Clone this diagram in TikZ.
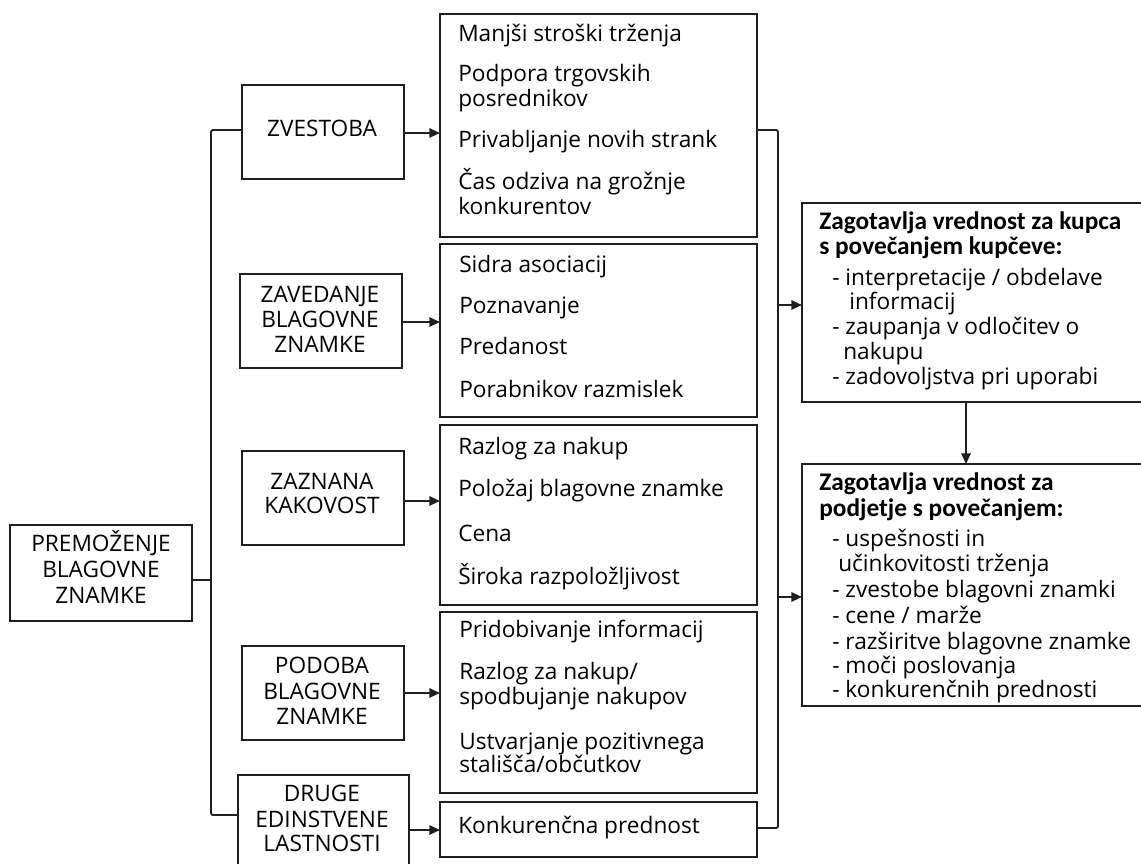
\documentclass[tikz,border=0pt]{standalone}
\usepackage{fontspec}
\setmainfont{Open Sans}
\newfontfamily\headfont{Carlito}
\usetikzlibrary{arrows.meta}

\tikzset{
  frame/.style={draw=black!88, line width=1.4pt, fill=none, inner sep=0pt},
  conn/.style={draw=black!88, line width=1.4pt, rounded corners=1.5pt},
  arr/.style={conn, -{Triangle[length=8pt,width=7pt]}},
  dimtxt/.style={font=\fontsize{17}{20}\selectfont, inner sep=0pt, text height=.72em, text depth=0pt, anchor=center},
  itemtxt/.style={font=\fontsize{17}{20}\selectfont, inner sep=0pt, text height=.72em, text depth=0pt, anchor=west},
  headtxt/.style={font=\headfont\bfseries\fontsize{19}{22}\selectfont, inner sep=0pt, text height=.64em, text depth=0pt, anchor=west},
  subtxt/.style={font=\fontsize{17}{20}\selectfont, inner sep=0pt, text height=.72em, text depth=0pt, anchor=west}
}

\begin{document}
\begin{tikzpicture}[x=0.75pt, y=-0.75pt]
\useasboundingbox (0,0) rectangle (1141,863);
\clip (0,0) rectangle (1141,863);

% ---------- root ----------
\draw[frame] (10,525) rectangle (192,621);
\node[dimtxt] (rootA) at (101,547) {PREMOŽENJE};
\node[dimtxt] (rootB) at (101,573) {BLAGOVNE};
\node[dimtxt] (rootC) at (101,599) {ZNAMKE};
\coordinate (rootE) at (192,580);

% ---------- dimensions ----------
\draw[frame] (242,85) rectangle (404,179);
\node[dimtxt] (zv) at (322,132) {ZVESTOBA};

\draw[frame] (240,274) rectangle (402,368);
\node[dimtxt] (zaA) at (320,298) {ZAVEDANJE};
\node[dimtxt] (zaB) at (320,323) {BLAGOVNE};
\node[dimtxt] (zaC) at (320,348) {ZNAMKE};

\draw[frame] (242,451) rectangle (404,545);
\node[dimtxt] (kaA) at (322,485) {ZAZNANA};
\node[dimtxt] (kaB) at (322,509) {KAKOVOST};

\draw[frame] (242,646) rectangle (404,740);
\node[dimtxt] (poA) at (322,669) {PODOBA};
\node[dimtxt] (poB) at (322,695) {BLAGOVNE};
\node[dimtxt] (poC) at (322,720) {ZNAMKE};

\draw[frame] (238,775) rectangle (409,880);
\node[dimtxt] (drA) at (322,797) {DRUGE};
\node[dimtxt] (drB) at (322,823) {EDINSTVENE};
\node[dimtxt] (drC) at (322,847) {LASTNOSTI};

% named edge points of the boxes
\coordinate (zvW) at (242,130);
\coordinate (drW) at (238,815);
\coordinate (zvE) at (404,133);
\coordinate (zaE) at (402,322);
\coordinate (kaE) at (404,501);
\coordinate (poE) at (404,693);
\coordinate (drE) at (409,830);

% ---------- benefit boxes ----------
\draw[frame] (440,14) rectangle (757,237);
\node[itemtxt] (m1a) at (458,37) {Manjši stroški trženja};
\node[itemtxt] (m1b) at (458,77) {Podpora trgovskih};
\node[itemtxt] (m1c) at (458,102) {posrednikov};
\node[itemtxt] (m1d) at (458,143) {Privabljanje novih strank};
\node[itemtxt] (m1e) at (458,185) {Čas odziva na grožnje};
\node[itemtxt] (m1f) at (458,210) {konkurentov};

\draw[frame] (440,244) rectangle (757,417);
\node[itemtxt] (m2a) at (459,268) {Sidra asociacij};
\node[itemtxt] (m2b) at (459,309) {Poznavanje};
\node[itemtxt] (m2c) at (459,350) {Predanost};
\node[itemtxt] (m2d) at (459,393) {Porabnikov razmislek};

\draw[frame] (440,425) rectangle (757,605);
\node[itemtxt] (m3a) at (458,450) {Razlog za nakup};
\node[itemtxt] (m3b) at (458,492) {Položaj blagovne znamke};
\node[itemtxt] (m3c) at (458,537) {Cena};
\node[itemtxt] (m3d) at (458,580) {Široka razpoložljivost};

\draw[frame] (440,612) rectangle (757,793);
\node[itemtxt] (m4a) at (459,633) {Pridobivanje informacij};
\node[itemtxt] (m4b) at (459,675) {Razlog za nakup/};
\node[itemtxt] (m4c) at (459,700) {spodbujanje nakupov};
\node[itemtxt] (m4d) at (459,745) {Ustvarjanje pozitivnega};
\node[itemtxt] (m4e) at (459,768) {stališča/občutkov};

\draw[frame] (440,802) rectangle (757,857);
\node[itemtxt] (m5a) at (458,829) {Konkurenčna prednost};

\coordinate (m1W) at (440,133);
\coordinate (m2W) at (440,322);
\coordinate (m3W) at (440,501);
\coordinate (m4W) at (440,693);
\coordinate (m5W) at (440,830);
\coordinate (m1E) at (757,130);
\coordinate (m5E) at (757,828);
\coordinate (busTop) at (778,130);
\coordinate (busBot) at (778,828);
\coordinate (busA) at (778,305);
\coordinate (busB) at (778,597);

% ---------- value boxes ----------
\draw[frame] (802,203) rectangle (1160,402);
\node[headtxt] (r1a) at (819,225) {Zagotavlja vrednost za kupca};
\node[headtxt] (r1b) at (819,250) {s povečanjem kupčeve:};
\node[subtxt] (r1c) at (832,281) {- interpretacije / obdelave};
\node[subtxt] (r1d) at (849,305) {informacij};
\node[subtxt] (r1e) at (832,330) {- zaupanja v odločitev o};
\node[subtxt] (r1f) at (843,355) {nakupu};
\node[subtxt] (r1g) at (832,380) {- zadovoljstva pri uporabi};

\draw[frame] (802,464) rectangle (1160,706);
\node[headtxt] (r2a) at (819,486) {Zagotavlja vrednost za};
\node[headtxt] (r2b) at (819,512) {podjetje s povečanjem:};
\node[subtxt] (r2c) at (832,542) {- uspešnosti in};
\node[subtxt] (r2d) at (838,567) {učinkovitosti trženja};
\node[subtxt] (r2e) at (832,593) {- zvestobe blagovni znamki};
\node[subtxt] (r2f) at (832,619) {- cene / marže};
\node[subtxt] (r2g) at (832,645) {- razširitve blagovne znamke};
\node[subtxt] (r2h) at (832,669) {- moči poslovanja};
\node[subtxt] (r2i) at (832,693) {- konkurenčnih prednosti};

\coordinate (r1W) at (802,305);
\coordinate (r2W) at (802,597);
\coordinate (r1S) at (966,402);
\coordinate (r2N) at (966,464);

% ---------- connectors ----------
\draw[conn] (rootE) -- (211,580);
\draw[conn] (zvW) -- (211,130) -- (211,815) -- (drW);

\draw[arr] (zvE) -- (m1W);
\draw[arr] (zaE) -- (m2W);
\draw[arr] (kaE) -- (m3W);
\draw[arr] (poE) -- (m4W);
\draw[arr] (drE) -- (m5W);

\draw[conn] (m1E) -- (busTop) -- (busBot) -- (m5E);
\draw[arr] (busA) -- (r1W);
\draw[arr] (busB) -- (r2W);
\draw[arr] (r1S) -- (r2N);
\end{tikzpicture}
\end{document}
